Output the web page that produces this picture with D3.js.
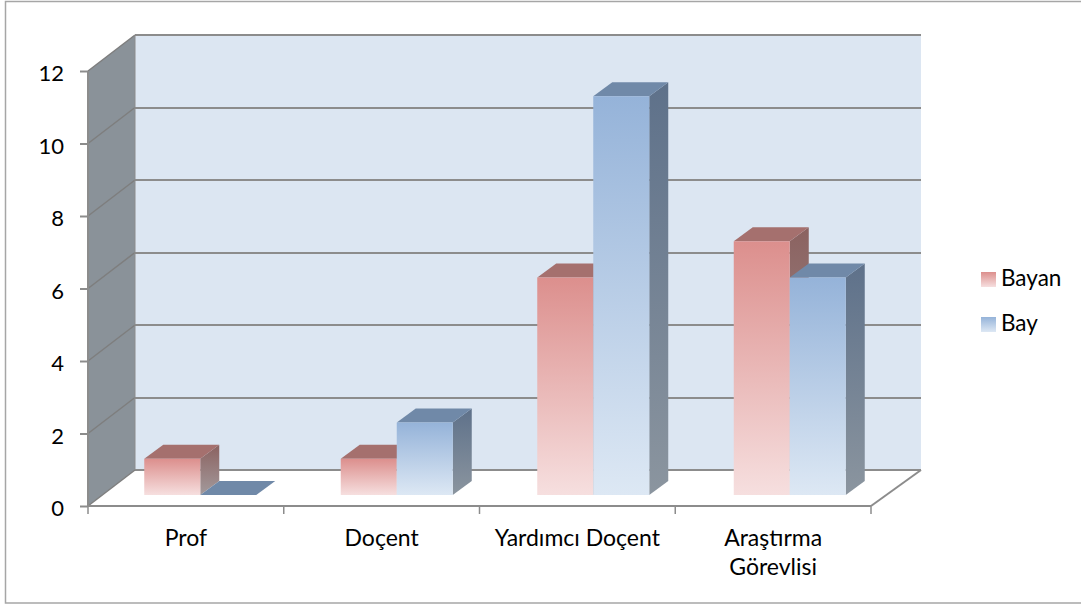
<!DOCTYPE html>
<html>
<head>
<meta charset="utf-8">
<script src="https://cdnjs.cloudflare.com/ajax/libs/d3/7.8.5/d3.min.js"></script>
<style>
  html, body { margin: 0; padding: 0; background: #fff; }
  svg { display: block; }
  text { font-family: Lato, "Open Sans", sans-serif; fill: #000; }
</style>
</head>
<body>
<div id="chart"></div>
<script>
var categories = ["Prof", "Doçent", "Yardımcı Doçent", "Araştırma Görevlisi"];
var seriesNames = ["Bayan", "Bay"];
var bayan = [1, 1, 6, 7];
var bay = [0, 2, 11, 6];
var yTicks = [0, 2, 4, 6, 8, 10, 12];

var width = 1081, height = 607;

// oblique offsets: wall depth, and bar depth / bar inset on the floor
var wallDx = 47, wallDy = -36;
var wallRight = 921;
var barDx = 19, barDy = -14;
var insetDy = -11;

var svg = d3.select("#chart").append("svg")
  .attr("width", width)
  .attr("height", height);

var x = d3.scaleBand().domain(categories).range([88, 871]);
var y = d3.scaleLinear().domain([0, 12]).range([506, 71]);
// the bars stand further back on the floor, so their band is shifted and a bit wider
var xBars = d3.scaleBand().domain(categories).range([102, 888]);
var x1 = d3.scaleBand().domain(seriesNames)
  .range([xBars.bandwidth() / 2 - 56, xBars.bandwidth() / 2 + 56]);

function grad(id, top, bottom) {
  var g = svg.append("defs").append("linearGradient")
    .attr("id", id)
    .attr("x1", 0).attr("y1", 0).attr("x2", 0).attr("y2", 1);
  g.append("stop").attr("offset", "0%").attr("stop-color", top);
  g.append("stop").attr("offset", "100%").attr("stop-color", bottom);
}
grad("front-Bayan", "#dc8f8d", "#f6dfdf");
grad("front-Bay", "#95b3d9", "#dde8f4");
grad("side-Bayan", "#8b6260", "#a39a9c");
grad("side-Bay", "#5e718a", "#8b959f");

function pts(a) {
  return a.map(function(p) { return p.join(","); }).join(" ");
}

// chart frame, open on the right like the original crop
svg.append("path")
  .attr("d", "M1081,1.5H5.5V603H1081")
  .attr("fill", "none")
  .attr("stroke", "#a6a6a6")
  .attr("stroke-width", 1.5);

var x0 = x.range()[0], xEnd = x.range()[1];
var yBase = y(0), yTop = y(12);
var lineColor = "#8c8c8c";

// back wall
svg.append("rect")
  .attr("x", x0 + wallDx).attr("y", yTop + wallDy)
  .attr("width", wallRight - x0 - wallDx)
  .attr("height", yBase - yTop)
  .attr("fill", "#dce6f2");

// side wall
svg.append("polygon")
  .attr("points", pts([[x0, yBase], [x0, yTop], [x0 + wallDx, yTop + wallDy], [x0 + wallDx, yBase + wallDy]]))
  .attr("fill", "#8a9299");

// floor
svg.append("polygon")
  .attr("points", pts([[x0, yBase], [xEnd, yBase], [wallRight, yBase + wallDy], [x0 + wallDx, yBase + wallDy]]))
  .attr("fill", "#fff");

// gridlines, back wall and side wall
svg.selectAll(".grid").data(yTicks).enter().append("line")
  .attr("class", "grid")
  .attr("x1", x0 + wallDx).attr("x2", wallRight)
  .attr("y1", function(d) { return Math.round(y(d) + wallDy); })
  .attr("y2", function(d) { return Math.round(y(d) + wallDy); })
  .attr("stroke", lineColor)
  .attr("stroke-width", 2);

svg.selectAll(".grid-side").data(yTicks).enter().append("line")
  .attr("class", "grid-side")
  .attr("x1", x0).attr("x2", x0 + wallDx)
  .attr("y1", function(d) { return y(d); })
  .attr("y2", function(d) { return y(d) + wallDy; })
  .attr("stroke", "#7e7e7e")
  .attr("stroke-width", 1.5);

// wall and floor edges
svg.append("path")
  .attr("d", "M" + x0 + "," + yBase + "V" + yTop)
  .attr("stroke", lineColor).attr("stroke-width", 2).attr("fill", "none");
svg.append("path")
  .attr("d", "M" + (x0 + wallDx) + "," + (yBase + wallDy) + "V" + (yTop + wallDy))
  .attr("stroke", lineColor).attr("stroke-width", 1).attr("fill", "none");
svg.append("path")
  .attr("d", "M" + xEnd + "," + yBase + "L" + wallRight + "," + (yBase + wallDy))
  .attr("stroke", lineColor).attr("stroke-width", 2).attr("fill", "none");

// bars: Bayan first so Bay sits in front of its side face
var rows = [];
seriesNames.forEach(function(name, s) {
  var vals = s === 0 ? bayan : bay;
  categories.forEach(function(c, i) {
    rows.push({ name: name, cat: c, value: vals[i] });
  });
});

var bars = svg.selectAll(".bar").data(rows).enter().append("g")
  .attr("class", "bar")
  .attr("transform", function(d) {
    return "translate(" + (xBars(d.cat) + x1(d.name)) + "," + insetDy + ")";
  });

var bw = x1.bandwidth();

bars.append("polygon")
  .attr("points", function(d) {
    return pts([[bw, y(d.value)], [bw + barDx, y(d.value) + barDy], [bw + barDx, yBase + barDy], [bw, yBase]]);
  })
  .attr("fill", function(d) { return "url(#side-" + d.name + ")"; });

bars.append("polygon")
  .attr("points", function(d) {
    return pts([[0, y(d.value)], [barDx, y(d.value) + barDy], [bw + barDx, y(d.value) + barDy], [bw, y(d.value)]]);
  })
  .attr("fill", function(d) { return d.name === "Bayan" ? "#a5706e" : "#7089a8"; });

bars.filter(function(d) { return d.value > 0; }).append("rect")
  .attr("x", 0)
  .attr("y", function(d) { return y(d.value); })
  .attr("width", bw)
  .attr("height", function(d) { return yBase - y(d.value); })
  .attr("fill", function(d) { return "url(#front-" + d.name + ")"; });

// axes
var yAxis = d3.axisLeft(y).tickValues(yTicks).tickSize(8).tickPadding(16);
var gy = svg.append("g").attr("transform", "translate(" + x0 + ",0)").call(yAxis);
gy.select(".domain").remove();
gy.selectAll("line").attr("stroke", lineColor).attr("stroke-width", 2);
gy.selectAll("text").style("font-size", "22px").attr("fill", "#000").attr("dy", "0.45em");

var xAxis = d3.axisBottom(x).tickSize(0).tickPadding(24);
var gx = svg.append("g").attr("transform", "translate(0," + yBase + ")").call(xAxis);
gx.select(".domain").remove();
gx.selectAll("text").style("font-size", "23px").attr("fill", "#000")
  .each(function(d) {
    // only the long label wraps onto two lines
    if (d !== "Araştırma Görevlisi") return;
    var t = d3.select(this), parts = d.split(" "), dy = t.attr("dy");
    t.text(null);
    parts.forEach(function(p, i) {
      t.append("tspan").attr("x", 0).attr("dy", i === 0 ? dy : "1.25em").text(p);
    });
  });

// floor front edge and ticks between categories
svg.append("line")
  .attr("x1", x0).attr("x2", xEnd)
  .attr("y1", yBase).attr("y2", yBase)
  .attr("stroke", lineColor).attr("stroke-width", 2);
svg.selectAll(".cat-tick").data(categories.concat(["end"])).enter().append("line")
  .attr("class", "cat-tick")
  .attr("x1", function(d, i) { return x0 + i * x.step(); })
  .attr("x2", function(d, i) { return x0 + i * x.step(); })
  .attr("y1", yBase).attr("y2", yBase + 8)
  .attr("stroke", lineColor).attr("stroke-width", 1.5);

// legend
var legend = svg.selectAll(".legend").data(seriesNames).enter().append("g")
  .attr("class", "legend")
  .attr("transform", function(d, i) { return "translate(981," + (272 + i * 45) + ")"; });
legend.append("rect")
  .attr("width", 15).attr("height", 15)
  .attr("fill", function(d) { return "url(#front-" + d + ")"; });
legend.append("text")
  .attr("x", 20).attr("y", 14)
  .style("font-size", "22.5px")
  .text(function(d) { return d; });
</script>
</body>
</html>
